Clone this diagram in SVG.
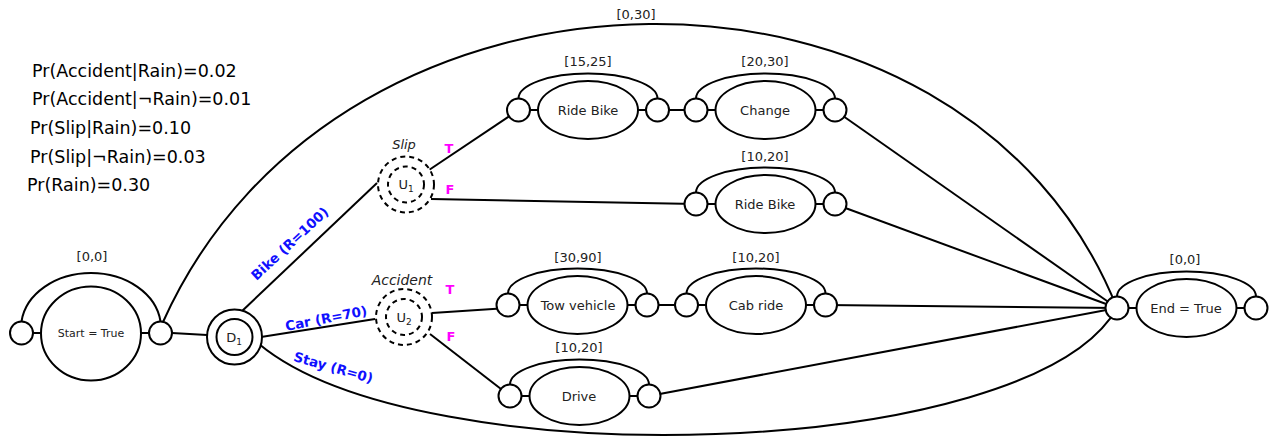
<svg xmlns="http://www.w3.org/2000/svg" xmlns:xlink="http://www.w3.org/1999/xlink" width="1274" height="437" viewBox="0 0 1274 437">
  <style>
    .ln { fill: none; stroke: #000; stroke-width: 2; }
    .c { fill: #fff; stroke: #000; stroke-width: 2; }
    .dash { fill: #fff; stroke: #000; stroke-width: 2; stroke-dasharray: 5 4; }
    .lbl { font-family: "DejaVu Sans", "Liberation Sans", sans-serif; font-size: 13px; fill: #222; text-anchor: middle; }
    .sm { font-size: 11px; }
    .sub { font-size: 9px; }
    .it { font-style: italic; }
    .prob { font-family: "DejaVu Sans", "Liberation Sans", sans-serif; font-size: 17.5px; fill: #000; }
    .edge { font-family: "DejaVu Sans", "Liberation Sans", sans-serif; font-size: 13.5px; font-weight: bold; fill: #1010ff; text-anchor: middle; }
    .tf { font-family: "DejaVu Sans", "Liberation Sans", sans-serif; font-size: 13px; font-weight: bold; fill: #ff00ff; text-anchor: middle; }
  </style>
  <defs>
    <!-- activity: start point, ellipse, end point, bounded arc above -->
    <g id="act">
      <path class="ln" d="M-69.5,-11.5 A69.5,25 0 0 1 69.5,-11.5"/>
      <line class="ln" x1="-58" y1="0" x2="-50" y2="0"/>
      <line class="ln" x1="50" y1="0" x2="58" y2="0"/>
      <circle class="c" cx="-69.5" cy="0" r="11.5"/>
      <circle class="c" cx="69.5" cy="0" r="11.5"/>
      <ellipse class="c" cx="0" cy="0" rx="50" ry="29"/>
    </g>
  </defs>

  <rect width="1274" height="437" fill="#fff"/>

  <!-- probabilities -->
  <g id="probabilities">
    <text class="prob" x="32" y="76.5">Pr(Accident|Rain)=0.02</text>
    <text class="prob" x="32" y="105">Pr(Accident|¬Rain)=0.01</text>
    <text class="prob" x="30" y="134">Pr(Slip|Rain)=0.10</text>
    <text class="prob" x="30" y="162.5">Pr(Slip|¬Rain)=0.03</text>
    <text class="prob" x="27" y="191">Pr(Rain)=0.30</text>
  </g>

  <!-- connectors -->
  <g id="connectors">
    <path class="ln" d="M163,322 C340,-72 965,-74 1117,308"/>
    <text class="lbl" x="636" y="19">[0,30]</text>
    <line class="ln" x1="172" y1="333" x2="207" y2="335"/>
    <line class="ln" x1="241" y1="312" x2="377" y2="183"/>
    <line class="ln" x1="261" y1="337" x2="375" y2="319"/>
    <path class="ln" d="M259,344 C420,478 1030,462 1117,308"/>
    <line class="ln" x1="429" y1="170" x2="518.5" y2="110"/>
    <line class="ln" x1="431" y1="199" x2="696" y2="204"/>
    <line class="ln" x1="432" y1="313" x2="508" y2="308"/>
    <line class="ln" x1="430" y1="334" x2="510" y2="396"/>
    <line class="ln" x1="657.5" y1="110" x2="696" y2="110"/>
    <line class="ln" x1="646.5" y1="305" x2="686.5" y2="305"/>
    <line class="ln" x1="834.5" y1="110" x2="1117" y2="308"/>
    <line class="ln" x1="834.5" y1="204" x2="1117" y2="308"/>
    <line class="ln" x1="825" y1="305" x2="1117" y2="308"/>
    <line class="ln" x1="649" y1="396" x2="1117" y2="308"/>
    <text class="edge" transform="translate(293,247) rotate(-43)">Bike (R=100)</text>
    <text class="edge" transform="translate(327,323) rotate(-11)">Car (R=70)</text>
    <text class="edge" transform="translate(332,372) rotate(16)">Stay (R=0)</text>
    <text class="tf" x="449" y="153">T</text>
    <text class="tf" x="450" y="194">F</text>
    <text class="tf" x="450" y="294">T</text>
    <text class="tf" x="451" y="341">F</text>
  </g>

  <!-- start -->
  <g id="n-start">
    <path class="ln" d="M21.5,321.5 A70,55 0 0 1 160.5,321.5"/>
    <line class="ln" x1="33" y1="333" x2="41" y2="333"/>
    <line class="ln" x1="141" y1="333" x2="149" y2="333"/>
    <circle class="c" cx="21.5" cy="333" r="11.5"/>
    <circle class="c" cx="160.5" cy="333" r="11.5"/>
    <ellipse class="c" cx="91" cy="333.5" rx="50" ry="47"/>
    <text class="lbl" x="92" y="261">[0,0]</text>
    <text class="lbl sm" x="91" y="337">Start = True</text>
  </g>

  <!-- decision -->
  <g id="n-d1">
    <circle class="c" cx="234.5" cy="337" r="27.5"/>
    <circle class="c" cx="234.5" cy="337" r="18"/>
    <text class="lbl" x="234" y="342">D<tspan class="sub" dy="3">1</tspan></text>
  </g>

  <!-- uncertain events -->
  <g id="n-u1">
    <circle class="dash" cx="406" cy="184.5" r="28"/>
    <circle class="dash" cx="406" cy="184.5" r="18"/>
    <text class="lbl" x="406" y="189">U<tspan class="sub" dy="3">1</tspan></text>
    <text class="lbl it" x="404" y="149">Slip</text>
  </g>
  <g id="n-u2">
    <circle class="dash" cx="404" cy="317" r="28"/>
    <circle class="dash" cx="404" cy="317" r="18"/>
    <text class="lbl" x="404" y="322">U<tspan class="sub" dy="3">2</tspan></text>
    <text class="lbl it" x="402" y="285" style="font-size:14px">Accident</text>
  </g>

  <!-- activities -->
  <g id="n-ride-bike-1">
    <use xlink:href="#act" x="588" y="110"/>
    <text class="lbl" x="588" y="66">[15,25]</text>
    <text class="lbl" x="588" y="115">Ride Bike</text>
  </g>
  <g id="n-change">
    <use xlink:href="#act" x="765.5" y="110"/>
    <text class="lbl" x="765" y="66">[20,30]</text>
    <text class="lbl" x="765" y="115">Change</text>
  </g>
  <g id="n-ride-bike-2">
    <use xlink:href="#act" x="765.5" y="204"/>
    <text class="lbl" x="765" y="161">[10,20]</text>
    <text class="lbl" x="765" y="209">Ride Bike</text>
  </g>
  <g id="n-tow">
    <use xlink:href="#act" x="577.5" y="305"/>
    <text class="lbl" x="578" y="262">[30,90]</text>
    <text class="lbl" x="578" y="310">Tow vehicle</text>
  </g>
  <g id="n-cab">
    <use xlink:href="#act" x="756" y="305"/>
    <text class="lbl" x="756" y="262">[10,20]</text>
    <text class="lbl" x="756" y="310">Cab ride</text>
  </g>
  <g id="n-drive">
    <use xlink:href="#act" x="579.5" y="396"/>
    <text class="lbl" x="579" y="352">[10,20]</text>
    <text class="lbl" x="579" y="401">Drive</text>
  </g>

  <!-- end -->
  <g id="n-end">
    <use xlink:href="#act" x="1186.5" y="308"/>
    <text class="lbl" x="1185" y="264">[0,0]</text>
    <text class="lbl" x="1186" y="313">End = True</text>
  </g>
</svg>
